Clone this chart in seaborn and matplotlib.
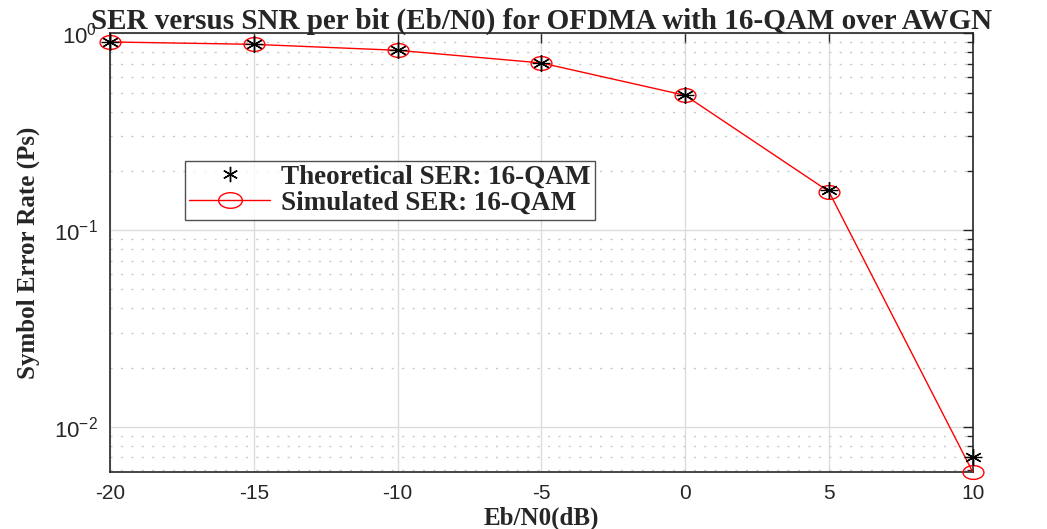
import numpy as np
import pandas as pd
import seaborn as sns
import matplotlib
matplotlib.use("Agg")
import matplotlib.pyplot as plt
from matplotlib.path import Path
from matplotlib.lines import Line2D
from matplotlib.ticker import LogLocator, FixedLocator, NullFormatter

# Eb/N0 sweep and symbol error rates
ebn0_db = [-20, -15, -10, -5, 0, 5, 10]
ser_theory = [0.904, 0.879, 0.820, 0.707, 0.484, 0.160, 0.0070]
ser_sim = [0.904, 0.879, 0.820, 0.707, 0.484, 0.157, 0.0059]

title_text = "SER versus SNR per bit (Eb/N0) for OFDMA with 16-QAM over AWGN"
xlabel_text = "Eb/N0(dB)"
ylabel_text = "Symbol Error Rate (Ps)"
legend_labels = ["Theoretical SER: 16-QAM", "Simulated SER: 16-QAM"]

df = pd.DataFrame({"ebn0": ebn0_db, "theory": ser_theory, "sim": ser_sim})

sns.set_theme(style="white")
plt.rcParams["font.family"] = ["Liberation Sans", "DejaVu Sans"]
plt.rcParams["mathtext.fontset"] = "custom"
plt.rcParams["mathtext.rm"] = "Liberation Sans"

serif_bold = dict(family="Liberation Serif", weight="bold")

# wide elliptical circle marker
t = np.linspace(0, 2 * np.pi, 60)
ellipse = Path(np.column_stack([np.cos(t), 0.66 * np.sin(t)]), closed=True)

fig = plt.figure(figsize=(10.47, 5.29), dpi=100)
ax = fig.add_axes([0.105, 0.108, 0.824, 0.829])

sns.lineplot(data=df, x="ebn0", y="sim", ax=ax, color="red", linewidth=1.0,
             marker=ellipse, markersize=15, markerfacecolor="none",
             markeredgecolor="red", markeredgewidth=1.0, zorder=3, clip_on=False)
ax.plot(df["ebn0"], df["theory"], linestyle="none", marker=(6, 2, 0),
        markersize=12, markeredgecolor="black", markeredgewidth=1.0,
        color="black", zorder=4, clip_on=False)
# horizontal bar of the star
ax.plot(df["ebn0"], df["theory"], linestyle="none", marker="_",
        markersize=13, markeredgecolor="black", markeredgewidth=1.0, zorder=4,
        clip_on=False)

ax.set_yscale("log")
ax.set_xlim(-20, 10)
ax.set_ylim(ser_sim[-1], 1)
ax.set_xticks(ebn0_db)
ax.set_xticklabels([str(v) for v in ebn0_db])
ax.yaxis.set_major_locator(FixedLocator([1e-2, 1e-1, 1]))
ax.yaxis.set_minor_locator(LogLocator(base=10, subs=np.arange(2, 10)))
ax.yaxis.set_minor_formatter(NullFormatter())

ax.grid(True, which="major", axis="both", color="#dcdcdc", linewidth=1.0, linestyle="-")
ax.grid(True, which="minor", axis="y", color="#c8c8c8", linewidth=1.0, linestyle=(0, (1.5, 6)))
ax.set_axisbelow(True)

for s in ax.spines.values():
    s.set_color("#262626")
    s.set_linewidth(1.2)
    s.set_visible(True)
ax.tick_params(which="both", direction="in", top=True, right=True,
               color="#262626", labelcolor="#262626")
ax.tick_params(axis="x", labelsize=15)
ax.tick_params(axis="y", labelsize=16)
ax.tick_params(which="major", length=7, width=1.0, pad=9)
ax.tick_params(which="minor", length=4, width=1.0)
ax.tick_params(axis="x", which="minor", bottom=False, top=False)

ax.set_title(title_text, fontsize=21, pad=3, **serif_bold)
ax.set_xlabel(xlabel_text, fontsize=18, labelpad=2, **serif_bold)
ax.set_ylabel(ylabel_text, fontsize=18, labelpad=10, **serif_bold)

handles = [
    Line2D([], [], linestyle="none", marker=(6, 2, 0), markersize=11,
           markeredgecolor="black", markeredgewidth=1.0),
    Line2D([], [], color="red", linewidth=1.0, marker=ellipse, markersize=17,
           markerfacecolor="none", markeredgecolor="red"),
]
leg = ax.legend(handles, legend_labels, loc="upper left",
                bbox_to_anchor=(0.087, 0.71), frameon=True, fancybox=False,
                edgecolor="#262626",
                prop=dict(family="Liberation Serif", weight="bold", size=19.5),
                handlelength=3.0, borderpad=0.15, labelspacing=0.05,
                handletextpad=0.4, borderaxespad=0)
leg.get_frame().set_linewidth(1.0)

fig.savefig("out.png", dpi=100, facecolor="white")
